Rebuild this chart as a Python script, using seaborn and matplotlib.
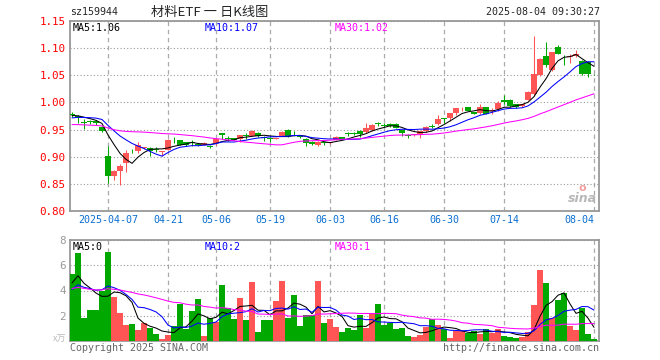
import numpy as np
import pandas as pd
import matplotlib
matplotlib.use("Agg")
import matplotlib.pyplot as plt
import seaborn as sns

# trading days shown (88 sessions), holidays removed
holidays = ["2025-04-04", "2025-05-01", "2025-05-02", "2025-05-05", "2025-06-02"]
dates = pd.bdate_range("2025-03-27", "2025-08-04")
dates = dates[~dates.isin(pd.to_datetime(holidays))]

open_ = [0.978, 0.9755, 0.9645, 0.9655, 0.965, 0.954, 0.901, 0.865, 0.8745, 0.889,
         0.911, 0.910, 0.916, 0.916, 0.914, 0.909, 0.913, 0.933, 0.930, 0.927,
         0.926, 0.924, 0.922, 0.920, 0.926, 0.9428, 0.9337, 0.9343, 0.9331, 0.9392,
         0.939, 0.944, 0.9355, 0.9343, 0.933, 0.939, 0.950, 0.944, 0.938, 0.933,
         0.928, 0.921, 0.926, 0.925, 0.9307, 0.9368, 0.9432, 0.943, 0.9482, 0.945,
         0.950, 0.962, 0.958, 0.961, 0.961, 0.949, 0.9395, 0.940, 0.941, 0.947,
         0.956, 0.9603, 0.971, 0.971, 0.980, 0.989, 0.991, 0.982, 0.980, 0.9914,
         0.985, 0.988, 1.004, 1.0037, 0.9963, 0.9926, 1.005, 1.015, 1.051, 1.086,
         1.060, 1.103, 1.086, 1.084, 1.086, 1.077, 1.075, 1.053]
high = [0.982, 0.977, 0.969, 0.967, 0.967, 0.956, 0.920, 0.875, 0.886, 0.913,
        0.915, 0.928, 0.918, 0.918, 0.917, 0.910, 0.933, 0.936, 0.931, 0.928,
        0.931, 0.925, 0.927, 0.9217, 0.934, 0.944, 0.939, 0.935, 0.9395, 0.943,
        0.949, 0.945, 0.938, 0.937, 0.934, 0.947, 0.951, 0.9465, 0.940, 0.934,
        0.929, 0.929, 0.9275, 0.928, 0.938, 0.937, 0.945, 0.945, 0.949, 0.962,
        0.960, 0.964, 0.963, 0.962, 0.962, 0.950, 0.941, 0.942, 0.948, 0.956,
        0.960, 0.977, 0.971, 0.981, 0.990, 0.992, 0.992, 0.983, 0.9975, 0.992,
        0.990, 1.002, 1.013, 1.006, 0.998, 0.998, 1.021, 1.123, 1.082, 1.112,
        1.093, 1.105, 1.087, 1.090, 1.096, 1.079, 1.076, 1.053]
low = [0.973, 0.962, 0.951, 0.961, 0.959, 0.945, 0.852, 0.858, 0.847, 0.8715,
       0.906, 0.907, 0.914, 0.901, 0.908, 0.902, 0.912, 0.925, 0.921, 0.920,
       0.919, 0.919, 0.921, 0.9157, 0.921, 0.933, 0.929, 0.930, 0.927, 0.932,
       0.938, 0.937, 0.929, 0.927, 0.932, 0.938, 0.937, 0.938, 0.935, 0.920,
       0.922, 0.920, 0.922, 0.924, 0.930, 0.932, 0.938, 0.9395, 0.937, 0.944,
       0.948, 0.956, 0.955, 0.9555, 0.952, 0.939, 0.935, 0.939, 0.935, 0.946,
       0.952, 0.959, 0.962, 0.965, 0.977, 0.985, 0.984, 0.978, 0.979, 0.978,
       0.979, 0.985, 0.998, 0.991, 0.990, 0.992, 1.004, 1.012, 1.049, 1.066,
       1.058, 1.089, 1.069, 1.073, 1.083, 1.051, 1.047, 1.051]
close = [0.976, 0.971, 0.962, 0.964, 0.962, 0.947, 0.865, 0.8745, 0.8825, 0.907,
         0.910, 0.922, 0.917, 0.911, 0.912, 0.910, 0.931, 0.932, 0.922, 0.922,
         0.925, 0.921, 0.926, 0.9187, 0.933, 0.9404, 0.932, 0.9307, 0.9392, 0.938,
         0.948, 0.938, 0.9345, 0.933, 0.9335, 0.9464, 0.938, 0.943, 0.9355, 0.926,
         0.9235, 0.928, 0.925, 0.927, 0.9367, 0.9332, 0.9425, 0.9425, 0.941, 0.953,
         0.958, 0.9603, 0.957, 0.956, 0.953, 0.943, 0.939, 0.941, 0.947, 0.955,
         0.955, 0.9693, 0.970, 0.980, 0.989, 0.9895, 0.985, 0.979, 0.9914, 0.979,
         0.986, 0.9988, 1.000, 0.9926, 0.9914, 0.9975, 1.020, 1.052, 1.080, 1.069,
         1.092, 1.090, 1.085, 1.086, 1.089, 1.053, 1.053, 1.052]
volume = [5.28, 7.0, 1.8, 2.45, 2.45, 3.95, 7.08, 3.45, 2.2, 1.23,
          1.3, 0.83, 1.38, 1.03, 0.5, 0.12, 0.42, 1.15, 2.95, 0.9,
          2.37, 3.3, 0.37, 1.78, 1.48, 4.43, 2.62, 1.72, 3.4, 1.66,
          4.7, 0.67, 1.65, 1.65, 3.2, 4.72, 1.8, 3.62, 1.2, 2.03,
          2.08, 4.72, 1.44, 1.7, 1.1, 0.7, 1.05, 0.86, 2.04, 1.05,
          2.2, 2.9, 1.25, 1.42, 0.94, 1.02, 0.38, 0.32, 0.46, 1.11,
          1.7, 1.22, 0.94, 0.24, 0.76, 0.76, 0.64, 0.8, 0.55, 0.94,
          0.65, 0.94, 0.4, 0.29, 0.25, 0.32, 0.69, 2.85, 5.6, 4.6,
          1.82, 3.25, 3.78, 1.2, 0.85, 2.61, 0.53, 0.13]

# sessions before the window, only used to start the moving averages
warmup_close = [0.972, 0.978, 0.980, 0.976, 0.975, 0.977, 0.970,
                0.945, 0.938, 0.930, 0.928, 0.932, 0.935, 0.936, 0.940,
                0.944, 0.948, 0.950, 0.952, 0.955,
                0.960, 0.965, 0.968, 0.970, 0.972, 0.974, 0.975, 0.977, 0.978]
warmup_volume = [4.5, 3.9, 4.8, 4.1, 3.6, 4.4, 4.9, 3.8, 4.2, 4.0,
                 4.6, 3.7, 4.3, 4.1, 3.9, 4.5, 4.2, 3.8, 4.4, 4.3,
                 3.2, 3.9, 3.4, 3.8, 3.5, 4.1, 4.8, 4.3, 4.5]

tick_dates = ["2025-04-07", "2025-04-21", "2025-05-06", "2025-05-19", "2025-06-03",
              "2025-06-16", "2025-06-30", "2025-07-14", "2025-08-04"]
price_labels = ["MA5:1.06", "MA10:1.07", "MA30:1.02"]
vol_labels = ["MA5:0", "MA10:2", "MA30:1"]

RED = "#ff5555"
GREEN = "#00a800"
BLUE_TXT = "#0a6fd0"
MA_COLORS = ["black", "#0000ff", "#ff00ff"]

df = pd.DataFrame({"date": dates, "open": open_, "high": high, "low": low,
                   "close": close, "vol": volume})
df["idx"] = np.arange(len(df))
df["dir"] = np.where(df["close"] >= df["open"], "up", "down")
n = len(df)
full_c = pd.Series(warmup_close + close)
full_v = pd.Series(warmup_volume + volume)
for w in (5, 10, 30):
    df["ma%d" % w] = full_c.rolling(w).mean().values[-n:]
    df["vma%d" % w] = full_v.rolling(w).mean().values[-n:]

sns.set_theme(style="white")
plt.rcParams["font.family"] = ["DejaVu Sans Mono", "Noto Sans CJK SC"]
plt.rcParams["lines.scale_dashes"] = False

W, H = 660, 360
fig = plt.figure(figsize=(6.6, 3.6), dpi=100)
fig.patch.set_facecolor("white")

def box(l, t, r, b):
    return [l / W, 1 - b / H, (r - l) / W, (b - t) / H]

ax = fig.add_axes(box(69.7, 21, 599.3, 211))
axv = fig.add_axes(box(69.7, 240.3, 599.3, 340.7))

cols = np.where(df["dir"] == "up", RED, GREEN)

# candles
body_lo = np.minimum(df["open"], df["close"])
body_h = np.maximum((df["close"] - df["open"]).abs(), 0.0012)
ax.vlines(df["idx"], df["low"], df["high"], colors=cols, linewidth=0.75, zorder=2)
ax.bar(df["idx"], body_h, bottom=body_lo, width=0.86, color=cols, linewidth=0, zorder=3)
for w, c in zip((5, 10, 30), MA_COLORS):
    sns.lineplot(data=df, x="idx", y="ma%d" % w, color=c, linewidth=0.75, ax=ax, zorder=4)

# volume
sns.barplot(data=df, x="idx", y="vol", hue="dir", palette={"up": RED, "down": GREEN},
            native_scale=True, width=0.85, dodge=False, legend=False, saturation=1,
            errorbar=None, linewidth=0, ax=axv, zorder=3)
for w, c in zip((5, 10, 30), MA_COLORS):
    sns.lineplot(data=df, x="idx", y="vma%d" % w, color=c, linewidth=0.75, ax=axv, zorder=4)

tick_idx = [dates.get_loc(pd.Timestamp(d)) for d in tick_dates]
tick_txt = [tick_dates[0]] + [d[5:] for d in tick_dates[1:]]

for a in (ax, axv):
    a.set_xlim(-0.383, 87.88)
    a.set_xlabel("")
    a.set_ylabel("")
    a.set_axisbelow(True)
    a.set_xticks(tick_idx)
    a.xaxis.grid(True, linestyle=(0, (3.2, 2.6)), color="#aaaaaa", linewidth=0.9)
    a.yaxis.grid(True, linestyle=(0, (0.8, 1.6)), color="#999999", linewidth=0.8)
    a.tick_params(length=0)
    for s in a.spines.values():
        s.set_color("#999999")
        s.set_linewidth(1.3)

ax.set_ylim(0.80, 1.15)
yt = np.round(np.arange(0.80, 1.151, 0.05), 2)
ax.set_yticks(yt)
ax.set_yticklabels(["%.2f" % v for v in yt], color="red", fontsize=7.8)
ax.tick_params(axis="y", pad=3)
ax.set_xticklabels(tick_txt, color=BLUE_TXT, fontsize=7.2)
ax.tick_params(axis="x", pad=3)
ax.get_xticklabels()[-1].set_ha("right")

axv.set_ylim(0, 8)
axv.set_yticks([2, 4, 6, 8])
axv.set_yticklabels(["2", "4", "6", "8"], color="#999999", fontsize=7.8)
axv.tick_params(axis="y", pad=3)
axv.set_xticklabels([])

def ftext(x, y, s, **kw):
    kw.setdefault("va", "center")
    kw.setdefault("fontsize", 7.2)
    fig.text(x / W, 1 - y / H, s, **kw)

ftext(70, 12, "sz159944")
ftext(151, 12, "材料ETF 一 日K线图", family=["Noto Sans CJK SC", "DejaVu Sans"], fontsize=9.5)
ftext(600, 12, "2025-08-04 09:30:27", ha="right")
for x, s, c in zip((73, 205, 335), price_labels, MA_COLORS):
    ftext(x, 28, s, color=c)
for x, s, c in zip((73, 205, 335), vol_labels, MA_COLORS):
    ftext(x, 247, s, color=c)
ftext(66, 339, "x万", ha="right", color="#bbbbbb", family=["Noto Sans CJK SC"], fontsize=6.5)
ftext(70, 348, "Copyright 2025 SINA.COM", color="#666666")
ftext(599, 348, "http://finance.sina.com.cn", ha="right", color="#666666")
ftext(582, 199, "sina", ha="center", color="#b8b8b8", fontsize=9, fontweight="bold",
      style="italic", family=["DejaVu Sans"])
ftext(582, 188, "o", ha="center", color="#f2a0a0", fontsize=8, fontweight="bold",
      family=["DejaVu Sans"])

fig.savefig("out.png", dpi=100)
